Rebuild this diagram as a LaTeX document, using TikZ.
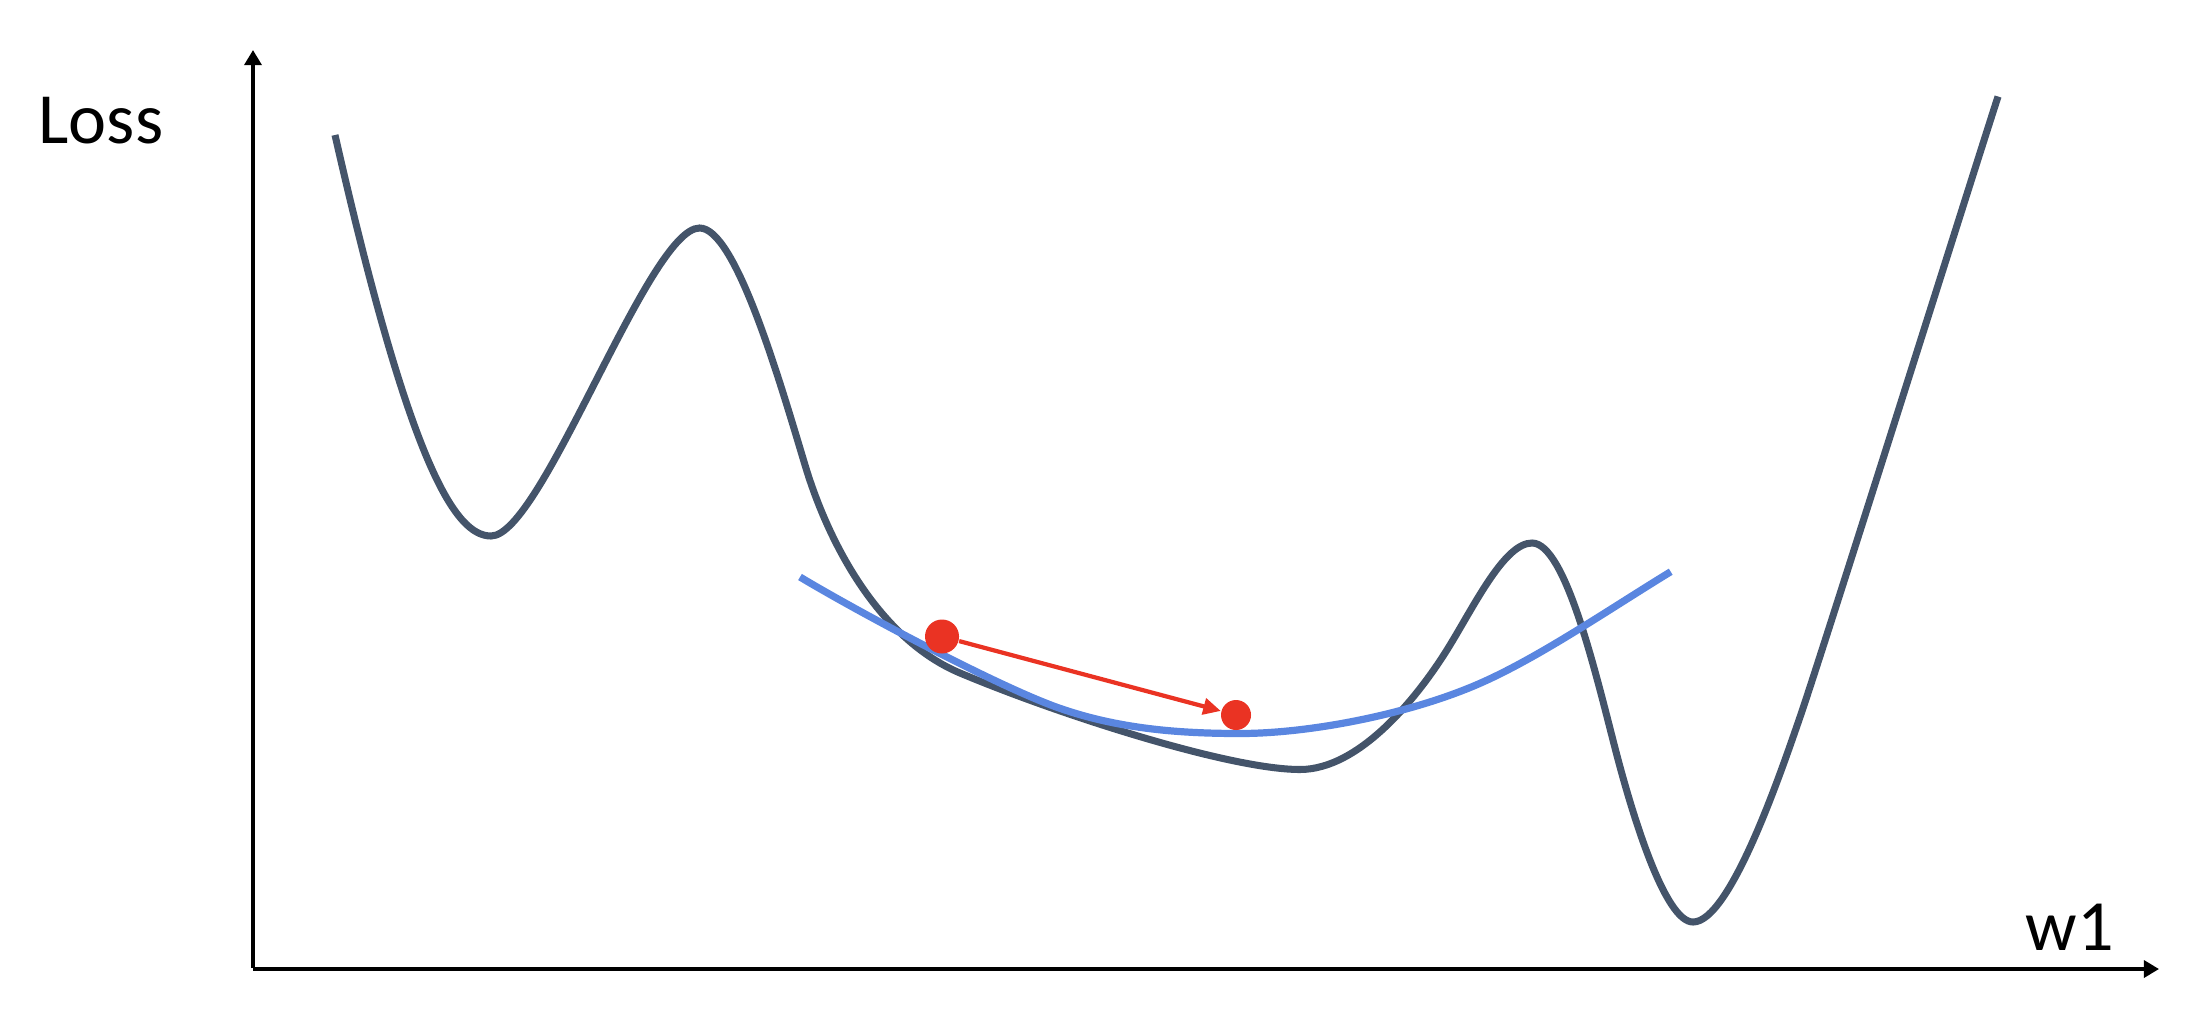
\documentclass[tikz,border=0pt]{standalone}
\usepackage{fontspec}
\setmainfont{Carlito}
\usetikzlibrary{arrows.meta}
\definecolor{curvegray}{HTML}{44546A}
\definecolor{fitblue}{HTML}{5A86E0}
\definecolor{dotred}{HTML}{EA3323}
\tikzset{
  axisline/.style={line width=1.1pt, black, -{Triangle[length=4.3pt,width=4.8pt]}},
  losscurve/.style={line width=2pt, curvegray},
  fitcurve/.style={line width=2.05pt, fitblue},
  reddot/.style={circle, fill=dotred, inner sep=0pt, minimum size=#1},
  stepline/.style={line width=1.2pt, dotred, -{Triangle[length=5pt,width=4.6pt]}},
  axislabel/.style={font=\fontsize{20.5pt}{24pt}\selectfont, inner sep=0pt}
}
\begin{document}
\begin{tikzpicture}[x=0.01cm, y=-0.01cm]
\useasboundingbox (0,0) rectangle (2204,1024);
% axes
\coordinate (O) at (253,968);
\coordinate (ytop) at (253,50);
\coordinate (xorig) at (253,969);
\coordinate (xend) at (2159,969);
\draw[axisline] (O) -- (ytop);
\draw[axisline] (xorig) -- (xend);
\node[axislabel, anchor=base west] (losslbl) at (38,143) {Loss};
\node[axislabel, anchor=base west] (wlbl) at (2025,950) {w1};
% loss curve
\draw[losscurve] (335,135)
  .. controls (410,465) and (455,536) .. (491,536)
  .. controls (542,536) and (648.6,228) .. (699.6,228)
  .. controls (735,228) and (778,375) .. (805,465)
  .. controls (829,545) and (880,639.4) .. (960,673)
  .. controls (1060,715) and (1230,769.5) .. (1300,769.5)
  .. controls (1360,769.5) and (1418.8,696.3) .. (1450,645)
  .. controls (1476,602.25) and (1505,543) .. (1532,543)
  .. controls (1565,543) and (1595,670.6) .. (1615,748)
  .. controls (1632.5,815.8) and (1665,922) .. (1693,922)
  .. controls (1730,922) and (1780.4,773.7) .. (1800,717)
  .. controls (1822.8,650.85) and (1976.4,163.1) .. (1998,96.5);
% local fit curve
\draw[fitcurve] (800,577)
  .. controls (860,613) and (999,687) .. (1059,708)
  .. controls (1119,729) and (1180,733.5) .. (1240,733.5)
  .. controls (1310,733.5) and (1410,714.1) .. (1480,683.3)
  .. controls (1540,656.9) and (1610.7,608.3) .. (1670.7,571.7);
% step
\node[reddot=0.34cm] (p1) at (942,636.5) {};
\node[reddot=0.30cm] (p2) at (1236,715) {};
\draw[stepline] (p1) -- (p2);
\end{tikzpicture}
\end{document}
